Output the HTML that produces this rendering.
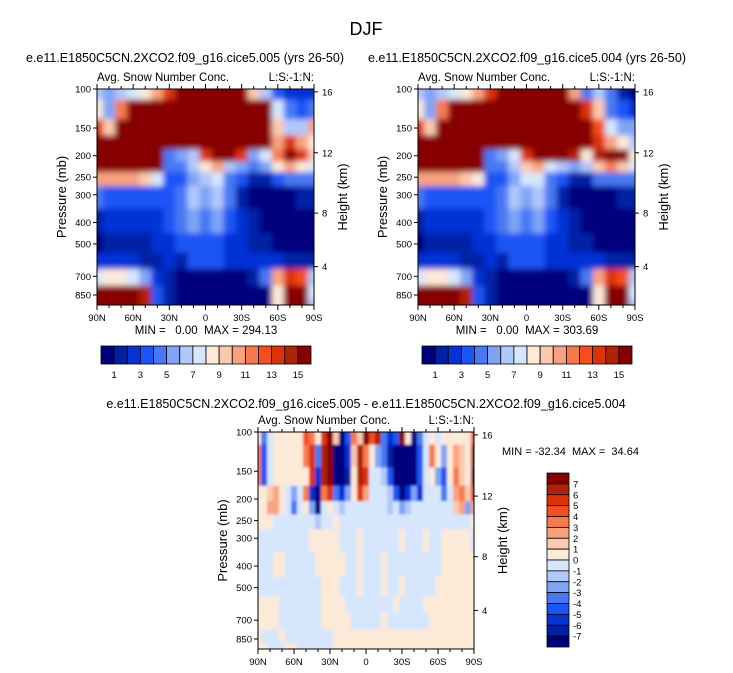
<!DOCTYPE html>
<html><head><meta charset="utf-8">
<style>
html,body{margin:0;padding:0;background:#fff;}
svg{display:block;font-family:"Liberation Sans",Arial,sans-serif;}
</style></head>
<body>
<svg id="chart" width="733" height="673" viewBox="0 0 733 673" xmlns="http://www.w3.org/2000/svg">
<defs>
<filter id="soft3" x="-5%" y="-5%" width="110%" height="110%"><feGaussianBlur stdDeviation="3"/></filter>
<filter id="soft1" x="-5%" y="-5%" width="110%" height="110%"><feGaussianBlur stdDeviation="1.3"/></filter>
</defs>
<text x="366" y="35" font-size="18" text-anchor="middle">DJF</text>
</svg>
<script>
// ---------- data ----------
const lats19 = [90,80,70,60,50,40,30,20,10,0,-10,-20,-30,-40,-50,-60,-70,-80,-90];
const lats37 = [90,85,80,75,70,65,60,55,50,45,40,35,30,25,20,15,10,5,0,-5,-10,-15,-20,-25,-30,-35,-40,-45,-50,-55,-60,-65,-70,-75,-80,-85,-90];
const levelsTop = [100,125,150,175,200,225,250,300,400,500,600,700,850,925];
const levelsDiff = [100,130,160,190,220,250,300,400,500,600,700,850,925];
// color level index (0..15) as hex digits, rows = levels, columns = latitudes
const fieldLeft = [
"65678adffffff963222",
"85bffffffffffff7434",
"d9fffffffffffff966a",
"fffffffffffffffad a8".replace(' ',''),
"ffffff456dffd57bfd9",
"ffffff4468a65458a87",
"aaaa973356743113444",
"4333333465641000011",
"1222223454532100000",
"0111122333322110000",
"2222112133322222111",
"7887521000000014adc6".slice(0,7)+"000000"+"14adc6",
"ffffe31000000008ff7",
"ffffe31000000008ff6"];
const fieldRight = [
"65678adffffffa46410",
"85bfffffffffffd9432",
"d9fffffffffffffc755",
"fffffffffffffffda86",
"ffffff457dfffe8eff8",
"ffffff4469a76569b97",
"aaaa983357743114444",
"4333333465641000011",
"1222223454532100000",
"0111122333322110000",
"2222112133322222111",
"7887521000000014adc6".slice(0,7)+"000000"+"14adc6",
"ffffe31000000008ff7",
"ffffe31000000008ff6"];
const fieldDiff = [
"84788888cb"+"8df903b9fc"+"e423f80478"+"788888c",
"b3788888bd"+"4ef0029eb8"+"541000037b"+"858a98e",
"b37888888d"+"2ef0018ed7"+"7630000378"+"538b98f",
"889a8757b2"+"0bd4258da7"+"7763025277"+"747ab9d",
"88aa874785"+"0787677777"+"7767567777"+"7779a5a",
"8887777777"+"6778777777"+"7777777777"+"7777778",
"7777777778"+"8888777877"+"7777877787"+"7888887",
"7778877777"+"8888877877"+"7877777777"+"7888888",
"7777777777"+"7888777877"+"7877877777"+"8888888",
"8888777777"+"7888877777"+"7778777788"+"8888888",
"8888777777"+"7888887777"+"7877777778"+"8888888",
"8777877777"+"7778888888"+"8888888888"+"8888888",
"8877788777"+"7778888888"+"8888888888"+"8888888"];
const colorsTop = ["#00007f","#0021a4","#0633d6","#1a55f5","#4679f4","#7fa4f6","#b0c8fa","#d6e7fd","#fde9d8","#fbc9ae","#f9a27f","#f77a4e","#f54e1c","#dd3207","#ae2206","#870000"];
const cbarTopLabels = ["1","3","5","7","9","11","13","15"];
const cbarDiffLabels = ["7","6","5","4","3","2","1","0","-1","-2","-3","-4","-5","-6","-7"];
const presTicks = [100,150,200,250,300,400,500,700,850];
const heightTicks = [16,12,8,4];
const heightPres = [103,194,363,633];
const latTickVals = [90,60,30,0,-30,-60,-90];
const latTickLabels = ["90N","60N","30N","0","30S","60S","90S"];

// ---------- drawing ----------
const NS="http://www.w3.org/2000/svg";
const svg=document.getElementById('chart');
function mk(tag,attrs,parent){const e=document.createElementNS(NS,tag);for(const k in attrs)e.setAttribute(k,attrs[k]);(parent||svg).appendChild(e);return e;}
function txt(x,y,s,size,anchor,parent){const t=mk('text',{x:x,y:y,'font-size':size,'text-anchor':anchor||'start'},parent);t.textContent=s;return t;}
const PMAX=943;
function panel(id,x0,y0,w,h,field,lats,levels,colors,filt){
  const g=mk('g',{});
  
  
  const xs=lat=>x0+(90-lat)/180*w;
  const ys=p=>y0+(Math.log10(p)-2)/(Math.log10(PMAX)-2)*h;
  const cp=mk('clipPath',{id:'clip-'+id},g);
  mk('rect',{x:x0,y:y0,width:w,height:h},cp);
  const cg=mk('g',{'clip-path':'url(#clip-'+id+')'},g);
  const fg=mk('g',{filter:'url(#'+filt+')'},cg);
  
  
  for(let r=0;r<levels.length;r++){
    const pa=r===0?60:Math.sqrt(levels[r-1]*levels[r]);
    const pb=r===levels.length-1?1200:Math.sqrt(levels[r]*levels[r+1]);
    const row=field[r];
    for(let c=0;c<lats.length;c++){
      const la=c===0?100:(lats[c-1]+lats[c])/2;
      const lb=c===lats.length-1?-100:(lats[c]+lats[c+1])/2;
      const v=parseInt(row[c]||'7',16);
      const cell=mk('rect',{x:xs(la),y:ys(pa),width:xs(lb)-xs(la)+0.6,height:ys(pb)-ys(pa)+0.6,fill:colors[v]},fg);
      
      
    }
  }
  mk('rect',{x:x0,y:y0,width:w,height:h,fill:'none',stroke:'#000','stroke-width':1},g);
  presTicks.forEach(p=>{const y=ys(p);mk('line',{x1:x0-4,x2:x0,y1:y,y2:y,stroke:'#000'},g);
    const t=txt(x0-6,y+3.5,String(p),9.5,'end',g);});
  heightTicks.forEach((z,i)=>{const y=ys(heightPres[i]);mk('line',{x1:x0+w,x2:x0+w+4,y1:y,y2:y,stroke:'#000'},g);
    const t=txt(x0+w+8,y+3.5,String(z),9.5,'start',g);});
  for(let lat=90;lat>=-90;lat-=10){const x=xs(lat);const major=lat%30===0;
    mk('line',{x1:x,x2:x,y1:y0+h,y2:y0+h+(major?5:3),stroke:'#000'},g);
    mk('line',{x1:x,x2:x,y1:y0,y2:y0-(major?5:3),stroke:'#000'},g);}
  latTickVals.forEach((lat,i)=>{const t=txt(xs(lat),y0+h+16,latTickLabels[i],9.5,'middle',g);});
  const yt=mk('text',{x:0,y:0,'font-size':13,'text-anchor':'middle',transform:'translate('+(x0-31)+','+(y0+h/2)+') rotate(-90)'},g);
  yt.textContent='Pressure (mb)';
  
  
  const ht=mk('text',{x:0,y:0,'font-size':13,'text-anchor':'middle',transform:'translate('+(x0+w+33)+','+(y0+h/2)+') rotate(-90)'},g);
  ht.textContent='Height (km)';
  
  
  const a=txt(x0,y0-8,'Avg. Snow Number Conc.',11.5,'start',g);
  
  
  const b=txt(x0+w,y0-8,'L:S:-1:N:',11.5,'end',g);
  
  
}
function hbar(id,x0,y0,w,h,colors,labels){
  const g=mk('g',{});
  
  
  const n=colors.length,bw=w/n;
  colors.forEach((c,i)=>{const r=mk('rect',{x:x0+i*bw,y:y0,width:bw,height:h,fill:c,stroke:'#000','stroke-width':0.8},g);
    });
  labels.forEach((l,i)=>{const t=txt(x0+(2*i+1)*bw,y0+h+14,l,9.5,'middle',g);});
}
function vbar(id,x0,y0,w,h,colors,labels){
  const g=mk('g',{});
  
  
  const n=colors.length,bh=h/n;
  for(let i=0;i<n;i++){const r=mk('rect',{x:x0,y:y0+i*bh,width:w,height:bh,fill:colors[n-1-i],stroke:'#000','stroke-width':0.8},g);
    }
  labels.forEach((l,i)=>{const t=txt(x0+w+4,y0+(i+1)*bh+3.5,l,9.5,'start',g);});
}
const st1=txt(185,62,'e.e11.E1850C5CN.2XCO2.f09_g16.cice5.005 (yrs 26-50)',12.5,'middle');


const st2=txt(527,62,'e.e11.E1850C5CN.2XCO2.f09_g16.cice5.004 (yrs 26-50)',12.5,'middle');


const st3=txt(366,408,'e.e11.E1850C5CN.2XCO2.f09_g16.cice5.005 - e.e11.E1850C5CN.2XCO2.f09_g16.cice5.004',12.5,'middle');


panel('left-panel',97,89,217,216,fieldLeft,lats19,levelsTop,colorsTop,'soft3');
panel('right-panel',418,89,217,216,fieldRight,lats19,levelsTop,colorsTop,'soft3');
panel('difference-panel',258,432,216,217,fieldDiff,lats37,levelsDiff,colorsTop,'soft1');
const m1=txt(206,334,'MIN =   0.00  MAX = 294.13',11.5,'middle');
m1.style.whiteSpace='pre';


const m2=txt(527,334,'MIN =   0.00  MAX = 303.69',11.5,'middle');
m2.style.whiteSpace='pre';


const m3=txt(502,455,'MIN = -32.34  MAX =  34.64',11,'start');
m3.style.whiteSpace='pre';


hbar('left-colorbar',101,346,210,18,colorsTop,cbarTopLabels);
hbar('right-colorbar',422,346,210,18,colorsTop,cbarTopLabels);
vbar('difference-colorbar',547,473,22,174,colorsTop,cbarDiffLabels);
</script>
</body></html>
